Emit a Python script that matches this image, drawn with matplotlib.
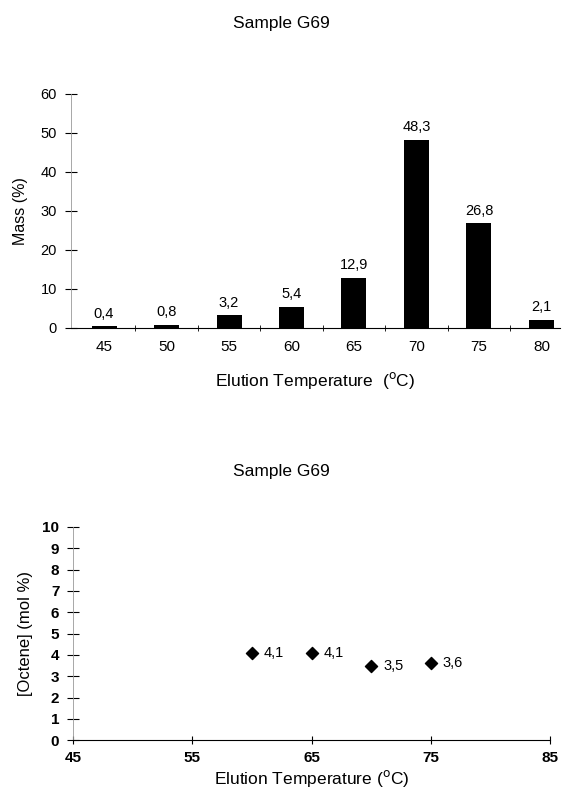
import numpy as np
import matplotlib
matplotlib.use("Agg")
import matplotlib.pyplot as plt

plt.rcParams['font.family'] = ['Liberation Sans', 'DejaVu Sans']

# top chart data
temps = ['45', '50', '55', '60', '65', '70', '75', '80']
mass = [0.4, 0.8, 3.2, 5.4, 12.9, 48.3, 26.8, 2.1]

# bottom chart data
oct_temp = [60, 65, 70, 75]
octene = [4.1, 4.1, 3.5, 3.6]

fig = plt.figure(figsize=(5.63, 7.96), dpi=100)

# ---- bar chart ----
ax1 = fig.add_axes([0.126, 0.588, 0.869, 0.294])
x = np.arange(len(temps))
ax1.bar(x, mass, width=0.4, color='black')
for xi, v in zip(x, mass):
    ax1.text(xi, v + 1.5, f"{v:.1f}".replace('.', ','), ha='center', va='bottom', fontsize=10.5)
ax1.set_xlim(-0.53, 7.3)
ax1.set_ylim(0, 60)
ax1.set_xticks(x)
ax1.set_xticklabels(temps)
ax1.set_xticks(x[:-1] + 0.5, minor=True)
ax1.tick_params(axis='x', which='major', length=0, pad=9, labelsize=11)
ax1.tick_params(axis='x', which='minor', length=4, direction='inout')
ax1.set_yticks(np.arange(0, 61, 10))
ax1.tick_params(axis='y', length=8, direction='inout', labelsize=10.5, pad=6)
for s in ['top', 'right']:
    ax1.spines[s].set_visible(False)
ax1.spines['left'].set_color('#999999')
ax1.spines['left'].set_linewidth(0.6)
ax1.spines['bottom'].set_linewidth(0.8)
ax1.set_xlabel('Elution Temperature  ($^{\\mathrm{o}}$C)', fontsize=12.5, labelpad=11)
ax1.set_ylabel('Mass (%)', fontsize=11.5, labelpad=9)
fig.text(0.5, 0.970, 'Sample G69', ha='center', va='center', fontsize=12.5)

# ---- scatter ----
ax2 = fig.add_axes([0.130, 0.070, 0.847, 0.268])
ax2.scatter(oct_temp, octene, marker='D', s=38, color='black', zorder=3)
for t, v in zip(oct_temp, octene):
    ax2.text(t + 1.0, v, f"{v:.1f}".replace('.', ','), ha='left', va='center',
             fontsize=10.5)
ax2.set_xlim(45, 85)
ax2.set_ylim(0, 10)
ax2.set_xticks([45, 55, 65, 75, 85])
ax2.set_yticks(np.arange(0, 11, 1))
ax2.tick_params(axis='x', length=6, direction='inout', labelsize=11, pad=5)
ax2.tick_params(axis='y', length=8, direction='inout', labelsize=11, pad=6)
for lab in ax2.get_xticklabels() + ax2.get_yticklabels():
    lab.set_fontweight('bold')
for s in ['top', 'right']:
    ax2.spines[s].set_visible(False)
ax2.spines['left'].set_color('#999999')
ax2.spines['left'].set_linewidth(0.6)
ax2.spines['bottom'].set_linewidth(0.8)
ax2.set_xlabel('Elution Temperature ($^{\\mathrm{o}}$C)', fontsize=12.5, labelpad=2)
ax2.set_ylabel('[Octene] (mol %)', fontsize=12, labelpad=7)
fig.text(0.5, 0.408, 'Sample G69', ha='center', va='center', fontsize=12.5)

fig.savefig('out.png', dpi=100)
